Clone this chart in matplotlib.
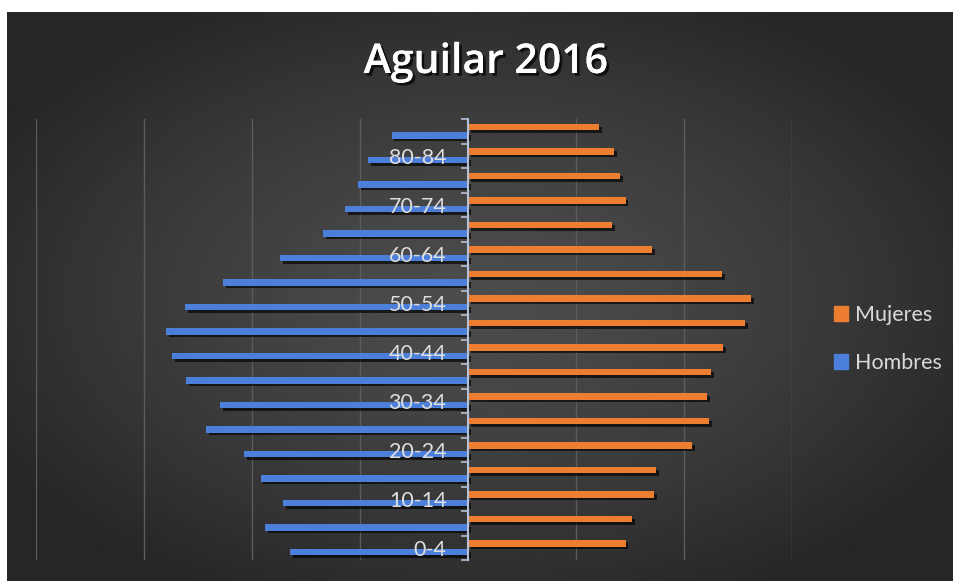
import numpy as np
import matplotlib
matplotlib.use('Agg')
import matplotlib.pyplot as plt
from matplotlib import patheffects as pe
from matplotlib.patches import Patch

# ---- data ----
age_groups = ['0-4', '5-9', '10-14', '15-19', '20-24', '25-29', '30-34', '35-39',
              '40-44', '45-49', '50-54', '55-59', '60-64', '65-69', '70-74',
              '75-79', '80-84', '85+']
hombres = [2.47, 2.82, 2.57, 2.88, 3.11, 3.64, 3.44, 3.92, 4.11, 4.19,
           3.93, 3.40, 2.61, 2.01, 1.71, 1.53, 1.39, 1.06]
mujeres = [2.19, 2.28, 2.58, 2.61, 3.11, 3.35, 3.32, 3.38, 3.54, 3.85,
           3.93, 3.53, 2.56, 2.00, 2.19, 2.11, 2.03, 1.82]
title = 'Aguilar 2016'

W, H = 954, 581
fig = plt.figure(figsize=(W / 100, H / 100), dpi=100, facecolor='white')

# background with radial gradient
bg = fig.add_axes([7 / W, 0, (W - 7) / W, (H - 12) / H])
bg.axis('off')
ny, nx = 200, 330
yy, xx = np.mgrid[0:1:ny * 1j, 0:1:nx * 1j]
r = np.sqrt(((xx - 0.5) / 0.62) ** 2 + ((yy - 0.5) / 0.62) ** 2)
v = 0.30 - (0.30 - 0.15) * np.clip(r / 0.95, 0, 1) ** 1.4
bg.imshow(v, cmap='gray', vmin=0, vmax=1, aspect='auto',
          interpolation='bilinear', extent=[0, 1, 0, 1])

# main axes
ax = fig.add_axes([36 / W, 21 / H, 756 / W, 441 / H])
ax.patch.set_alpha(0)
y = np.arange(len(age_groups))
shadow = [pe.withSimplePatchShadow(offset=(2, -2), shadow_rgbFace='black', alpha=0.65),
          pe.Normal()]
orange = '#ED7D31'
blue = '#4C7FDA'
ax.barh(y + 0.173, mujeres, height=0.25, color=orange, path_effects=shadow, zorder=2)
ax.barh(y - 0.173, [-v for v in hombres], height=0.25, color=blue,
        path_effects=shadow, zorder=2)

ax.set_xlim(-6, 4.5)
ax.set_ylim(-0.5, len(age_groups) - 0.5)

for s in ['top', 'right', 'bottom']:
    ax.spines[s].set_visible(False)
ax.spines['left'].set_position(('data', 0))
ax.spines['left'].set_color('#b4c0d6')
ax.spines['left'].set_linewidth(1.5)
ax.spines['left'].set_zorder(3)

ax.set_yticks(y)
ax.set_yticklabels([g if i % 2 == 0 else '' for i, g in enumerate(age_groups)],
                   fontfamily='Lato')
ax.tick_params(axis='y', which='major', length=0, pad=15.5,
               labelcolor='#dedede', labelsize=15.5)
ax.set_yticks(np.arange(-0.5, len(age_groups), 1), minor=True)
ax.tick_params(axis='y', which='minor', length=5, width=1.2, color='#b4c0d6',
               direction='out')

ax.set_xticks(np.arange(-6, 4.6, 1.5))
ax.tick_params(axis='x', length=0, labelbottom=False)
ax.grid(axis='x', color='#5c5c5c', lw=1)
ax.set_axisbelow(True)
ax.yaxis.set_zorder(4)

# title
fig.text(486 / W, 1 - 73 / H, title, ha='center', va='baseline',
         fontsize=29.5, fontweight='semibold', fontfamily='Open Sans', color='white',
         path_effects=[pe.withSimplePatchShadow(offset=(2, -2), shadow_rgbFace='black',
                                                alpha=0.7), pe.Normal()])

# legend
handles = [Patch(color=orange, label='Mujeres'), Patch(color=blue, label='Hombres')]
leg = fig.legend(handles=handles, loc='center left',
                 bbox_to_anchor=(815 / W, 1 - 339 / H), frameon=False,
                 handlelength=0.65, handleheight=0.65, handletextpad=0.3,
                 labelspacing=1.3, prop={'family': 'Lato', 'size': 15.5})
for t in leg.get_texts():
    t.set_color('#d9d9d9')

fig.savefig('out.png', dpi=100, facecolor='white')
